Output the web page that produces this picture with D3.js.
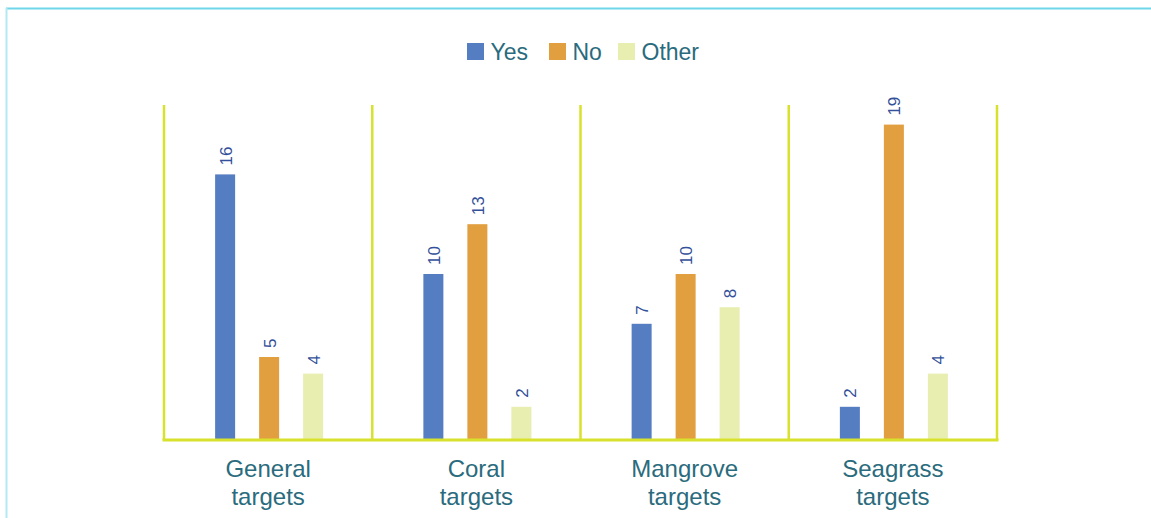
<!DOCTYPE html>
<html>
<head>
<meta charset="utf-8">
<script src="https://cdn.jsdelivr.net/npm/d3@7"></script>
<style>
  html, body { margin: 0; padding: 0; background: #fff; }
  svg { display: block; font-family: "Liberation Sans", Arial, sans-serif; }
</style>
</head>
<body>
<svg id="chart" width="1151" height="518"></svg>
<script>
// Categories and series values
const categories = [["General", "targets"], ["Coral", "targets"], ["Mangrove", "targets"], ["Seagrass", "targets"]];
const seriesNames = ["Yes", "No", "Other"];
const yesValues = [16, 10, 7, 2];
const noValues = [5, 13, 10, 19];
const otherValues = [4, 2, 8, 4];
const seriesColors = ["#557dc1", "#e19f3f", "#e8eeb0"];

const seriesValues = [yesValues, noValues, otherValues];
const svg = d3.select("#chart");

// Outer frame (top and left edges)
svg.append("line").attr("x1", 6).attr("x2", 1151).attr("y1", 8.5).attr("y2", 8.5)
  .attr("stroke", "#6fd6ea").attr("stroke-width", 2);
svg.append("line").attr("x1", 6.5).attr("x2", 6.5).attr("y1", 8).attr("y2", 518)
  .attr("stroke", "#b3e9f3").attr("stroke-width", 2);

const left = 164, right = 997, baseY = 440;
const catKeys = categories.map(c => c.join(" "));

const x = d3.scaleBand().domain(catKeys).range([left, right]).padding(0);
// bar centres inside each category, relative to the category centre
const sub = d3.scalePoint().domain(seriesNames).range([-43, 45]);
const y = d3.scaleLinear().domain([0, 20]).range([baseY, 108]);
const barW = 20;

// Category dividers
const lineColor = "#d8e22c";
const bounds = catKeys.map(k => x(k)).concat([right]);
svg.append("g").selectAll("line").data(bounds).join("line")
  .attr("x1", d => d).attr("x2", d => d)
  .attr("y1", 105).attr("y2", baseY)
  .attr("stroke", lineColor).attr("stroke-width", 2.5);

// Bars
const rows = [];
catKeys.forEach((k, i) => seriesNames.forEach((s, j) => rows.push({ cat: k, s, v: seriesValues[j][i], color: seriesColors[j] })));

svg.append("g").selectAll("rect").data(rows).join("rect")
  .attr("x", d => x(d.cat) + x.bandwidth() / 2 + sub(d.s) - barW / 2)
  .attr("y", d => y(d.v))
  .attr("width", barW)
  .attr("height", d => baseY - y(d.v))
  .attr("fill", d => d.color);

// Value labels, rotated
svg.append("g").selectAll("text").data(rows).join("text")
  .attr("transform", d => `translate(${x(d.cat) + x.bandwidth() / 2 + sub(d.s) + 6.5},${y(d.v) - 9}) rotate(-90)`)
  .attr("text-anchor", "start")
  .attr("font-size", 17)
  .attr("fill", "#33509a")
  .text(d => d.v);

// Baseline
svg.append("line").attr("x1", left - 1.5).attr("x2", right + 1.5).attr("y1", baseY).attr("y2", baseY)
  .attr("stroke", lineColor).attr("stroke-width", 3);

// Category labels
const textColor = "#2a6b7d";
const catG = svg.append("g").selectAll("text").data(categories).join("text")
  .attr("x", (d, i) => x(catKeys[i]) + x.bandwidth() / 2)
  .attr("y", 477)
  .attr("text-anchor", "middle")
  .attr("font-size", 24)
  .attr("fill", textColor);
catG.selectAll("tspan").data(d => d).join("tspan")
  .attr("x", function () { return this.parentNode.getAttribute("x"); })
  .attr("dy", (d, i) => i === 0 ? 0 : 28)
  .text(d => d);

// Legend
const legendItems = [
  { name: "Yes", x: 467 },
  { name: "No", x: 549 },
  { name: "Other", x: 618 }
];
const lg = svg.append("g").selectAll("g").data(legendItems).join("g")
  .attr("transform", d => `translate(${d.x},43)`);
lg.append("rect").attr("width", 17).attr("height", 17)
  .attr("fill", (d, i) => seriesColors[i]);
lg.append("text").attr("x", 23.5).attr("y", 17)
  .attr("font-size", 23).attr("fill", textColor)
  .text(d => d.name);
</script>
</body>
</html>
